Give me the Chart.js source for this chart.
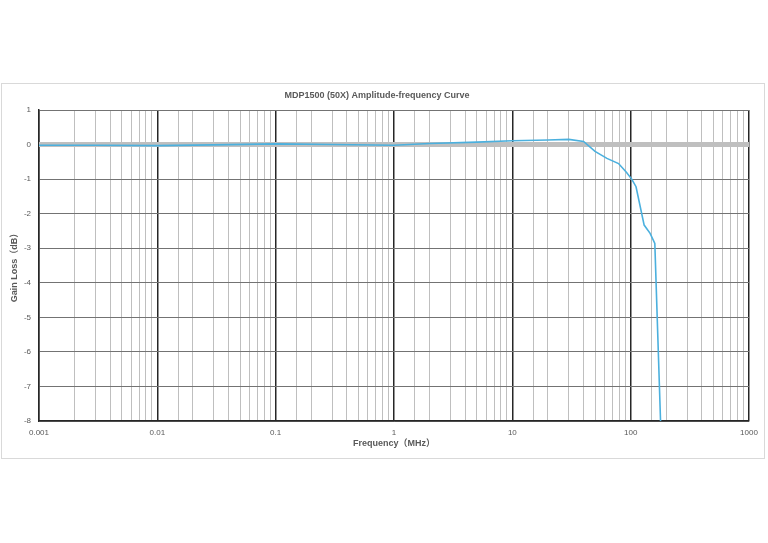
<!DOCTYPE html>
<html>
<head>
<meta charset="utf-8">
<script src="https://cdn.jsdelivr.net/npm/chart.js@4"></script>
<style>
  html, body { margin:0; padding:0; background:#fff; }
  #wrap { width:768px; height:543px; }
</style>
</head>
<body>
<div id="wrap"><canvas id="c" width="768" height="543"></canvas></div>
<script>
// measured curve, MHz vs dB
const freqMHz = [0.001, 0.003, 0.01, 0.03, 0.1, 0.3, 1, 2, 5, 10, 20, 30, 40, 50, 63, 79, 92, 102, 111, 130, 146, 160, 180];
const gainDb  = [-0.02, -0.02, -0.03, -0.01, 0.02, 0.0, -0.02, 0.03, 0.07, 0.11, 0.13, 0.15, 0.09, -0.2, -0.4, -0.55, -0.8, -1.0, -1.22, -2.33, -2.57, -2.86, -8.3];
// flat 0 dB reference
const refFreq = [0.001, 1000];
const refGain = [0, 0];

const yTicks = [1, 0, -1, -2, -3, -4, -5, -6, -7, -8];

const TXT = "#595959";
const FONT = "'Liberation Sans', 'Noto Sans CJK SC', sans-serif";

function isDecade(v){
  const l = Math.log10(v);
  return Math.abs(l - Math.round(l)) < 1e-6;
}
function fmtFreq(v){
  const e = Math.round(Math.log10(v));
  return e < 0 ? v.toFixed(-e) : String(Math.round(v));
}

const frame = {
  id: "frame",
  beforeDraw(chart){
    const ctx = chart.ctx;
    ctx.save();
    ctx.fillStyle = "#fff";
    ctx.fillRect(0, 0, chart.width, chart.height);
    ctx.strokeStyle = "#d9d9d9";
    ctx.lineWidth = 1;
    ctx.strokeRect(1.5, 83.5, 763, 375);
    ctx.restore();
  }
};

new Chart(document.getElementById("c"), {
  type: "line",
  data: {
    datasets: [
      {
        label: "MDP1500",
        data: freqMHz.map((f,i)=>({x:f, y:gainDb[i]})),
        borderColor: "#4bb0de",
        borderWidth: 1.6,
        pointRadius: 0,
        tension: 0,
        order: 0
      },
      {
        label: "ref",
        data: refFreq.map((f,i)=>({x:f, y:refGain[i]})),
        borderColor: "#bfbfbf",
        borderWidth: 5,
        pointRadius: 0,
        tension: 0,
        order: 1
      }
    ]
  },
  options: {
    responsive: false,
    animation: false,
    parsing: false,
    layout: { padding: { left: 5, top: 83, right: 19, bottom: 92 } },
    plugins: {
      legend: { display: false },
      tooltip: { enabled: false },
      title: {
        display: true,
        text: "MDP1500 (50X) Amplitude-frequency Curve",
        color: TXT,
        font: { family: FONT, size: 9, weight: "bold" },
        padding: { top: 7, bottom: 9.2 }
      }
    },
    scales: {
      x: {
        type: "logarithmic",
        min: 0.001,
        max: 1000,
        afterFit(s){ s.height = 30; },
        border: { display: true, color: "#262626", width: 1.5 },
        grid: {
          drawTicks: false,
          color: (c) => c.tick && isDecade(c.tick.value) ? "#262626" : "#bfbfbf",
          lineWidth: (c) => c.tick && isDecade(c.tick.value) ? 1.5 : 1
        },
        ticks: {
          autoSkip: false,
          maxRotation: 0,
          padding: 7,
          color: TXT,
          font: { family: FONT, size: 8 },
          callback: (v) => isDecade(v) ? fmtFreq(v) : ""
        },
        title: {
          display: true,
          text: "Frequency（MHz）",
          color: TXT,
          font: { family: FONT, size: 9, weight: "bold" },
          padding: { top: 0, bottom: 2 }
        }
      },
      y: {
        min: -8,
        max: 1,
        afterFit(s){ s.width = 34; },
        afterBuildTicks(s){ s.ticks = yTicks.map(v => ({value: v})); },
        border: { display: true, color: "#262626", width: 1.5 },
        grid: {
          drawTicks: false,
          color: "#737373",
          lineWidth: 1
        },
        ticks: {
          padding: 8,
          color: TXT,
          font: { family: FONT, size: 8 },
          callback: (v) => String(v)
        },
        title: {
          display: true,
          text: "Gain Loss（dB）",
          color: TXT,
          font: { family: FONT, size: 9, weight: "bold" },
          padding: { top: 4, bottom: 0 }
        }
      }
    }
  },
  plugins: [frame]
});
</script>
</body>
</html>
